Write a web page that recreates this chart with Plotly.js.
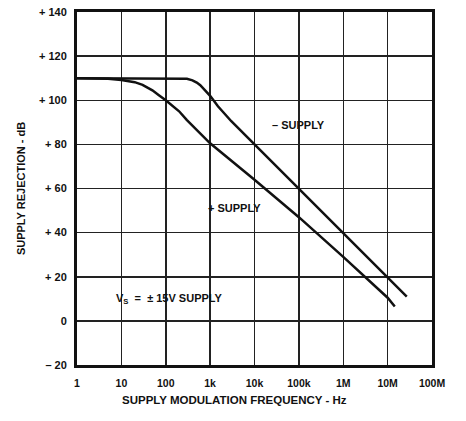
<!DOCTYPE html>
<html><head><meta charset="utf-8">
<script src="https://cdn.plot.ly/plotly-3.0.1.min.js"></script>
<style>html,body{margin:0;padding:0;background:#fff}#c{width:466px;height:421px}</style>
</head><body><div id="c"></div>
<script>
const negFreq = [1, 10, 100, 200, 300, 400, 500, 600, 800, 1000, 1500, 2000, 3000, 10000, 100000, 1000000, 10000000, 27000000];
const negRej  = [110, 110, 110, 110, 109.7, 109, 108, 106.8, 104.3, 102, 97.3, 94.3, 90.5, 80, 60, 40, 20, 11];
const posFreq = [1, 5, 10, 20, 30, 50, 70, 100, 200, 300, 1000, 10000, 100000, 1000000, 10000000, 14500000];
const posRej  = [110, 109.7, 109.2, 108.2, 107, 104.5, 102.3, 100, 95, 91, 80.5, 64, 47, 29, 10.5, 6.5];
const xTickVals = [1, 10, 100, 1000, 10000, 100000, 1000000, 10000000, 100000000];
const xTickText = ["1", "10", "100", "1k", "10k", "100k", "1M", "10M", "100M"];
const yTickVals = [-20, 0, 20, 40, 60, 80, 100, 120, 140];
const yTickText = ["– 20", "0", "+ 20", "+ 40", "+ 60", "+ 80", "+ 100", "+ 120", "+ 140"];

const F = 'Liberation Sans, Arial, sans-serif';
const lineStyle = {color: '#111', width: 2.5};
const traces = [
  {x: negFreq, y: negRej, mode: 'lines', line: lineStyle, hoverinfo: 'skip'},
  {x: posFreq, y: posRej, mode: 'lines', line: lineStyle, hoverinfo: 'skip'}
];
const tf = {family: F, size: 10.5, color: '#111', weight: 'bold'};
const layout = {
  width: 466, height: 421,
  margin: {l: 77, r: 34, t: 12, b: 56},
  paper_bgcolor: '#fff', plot_bgcolor: '#fff',
  showlegend: false,
  font: {family: F, color: '#111', size: 10},
  xaxis: {
    type: 'log', range: [0, 8],
    tickvals: xTickVals, ticktext: xTickText,
    showgrid: true, gridcolor: '#222', gridwidth: 1.5,
    showline: true, linecolor: '#111', linewidth: 3, mirror: true,
    ticks: '', zeroline: false, ticklabelstandoff: 6,
    tickfont: tf
  },
  yaxis: {
    range: [-20, 140],
    tickvals: yTickVals, ticktext: yTickText,
    showgrid: true, gridcolor: '#222', gridwidth: 1.5,
    showline: true, linecolor: '#111', linewidth: 3, mirror: true,
    ticks: '', zeroline: false, ticklabelstandoff: 5,
    tickfont: {family: F, size: 11, color: '#111', weight: 'bold'},
    title: {text: 'SUPPLY REJECTION - dB', font: {family: F, size: 11, color: '#111', weight: 'bold'}, standoff: 12}
  },
  annotations: [
    {x: 0.445, y: -0.122, xref: 'paper', yref: 'paper', text: 'SUPPLY MODULATION FREQUENCY - Hz', showarrow: false, font: {family: F, size: 11.5, color: '#111', weight: 'bold'}},
    {x: Math.log10(100000), y: 89, xref: 'x', yref: 'y', text: '– SUPPLY', showarrow: false, font: {family: F, size: 11, color: '#111', weight: 'bold'}},
    {x: Math.log10(3600), y: 51, xref: 'x', yref: 'y', text: '+ SUPPLY', showarrow: false, font: {family: F, size: 11, color: '#111', weight: 'bold'}},
    {x: Math.log10(124), y: 10, xref: 'x', yref: 'y', text: 'V<sub>S</sub>  =  ± 15V SUPPLY', showarrow: false, font: {family: F, size: 11, color: '#111', weight: 'bold'}}
  ]
};
Plotly.newPlot('c', traces, layout, {displayModeBar: false, staticPlot: true});
</script></body></html>
